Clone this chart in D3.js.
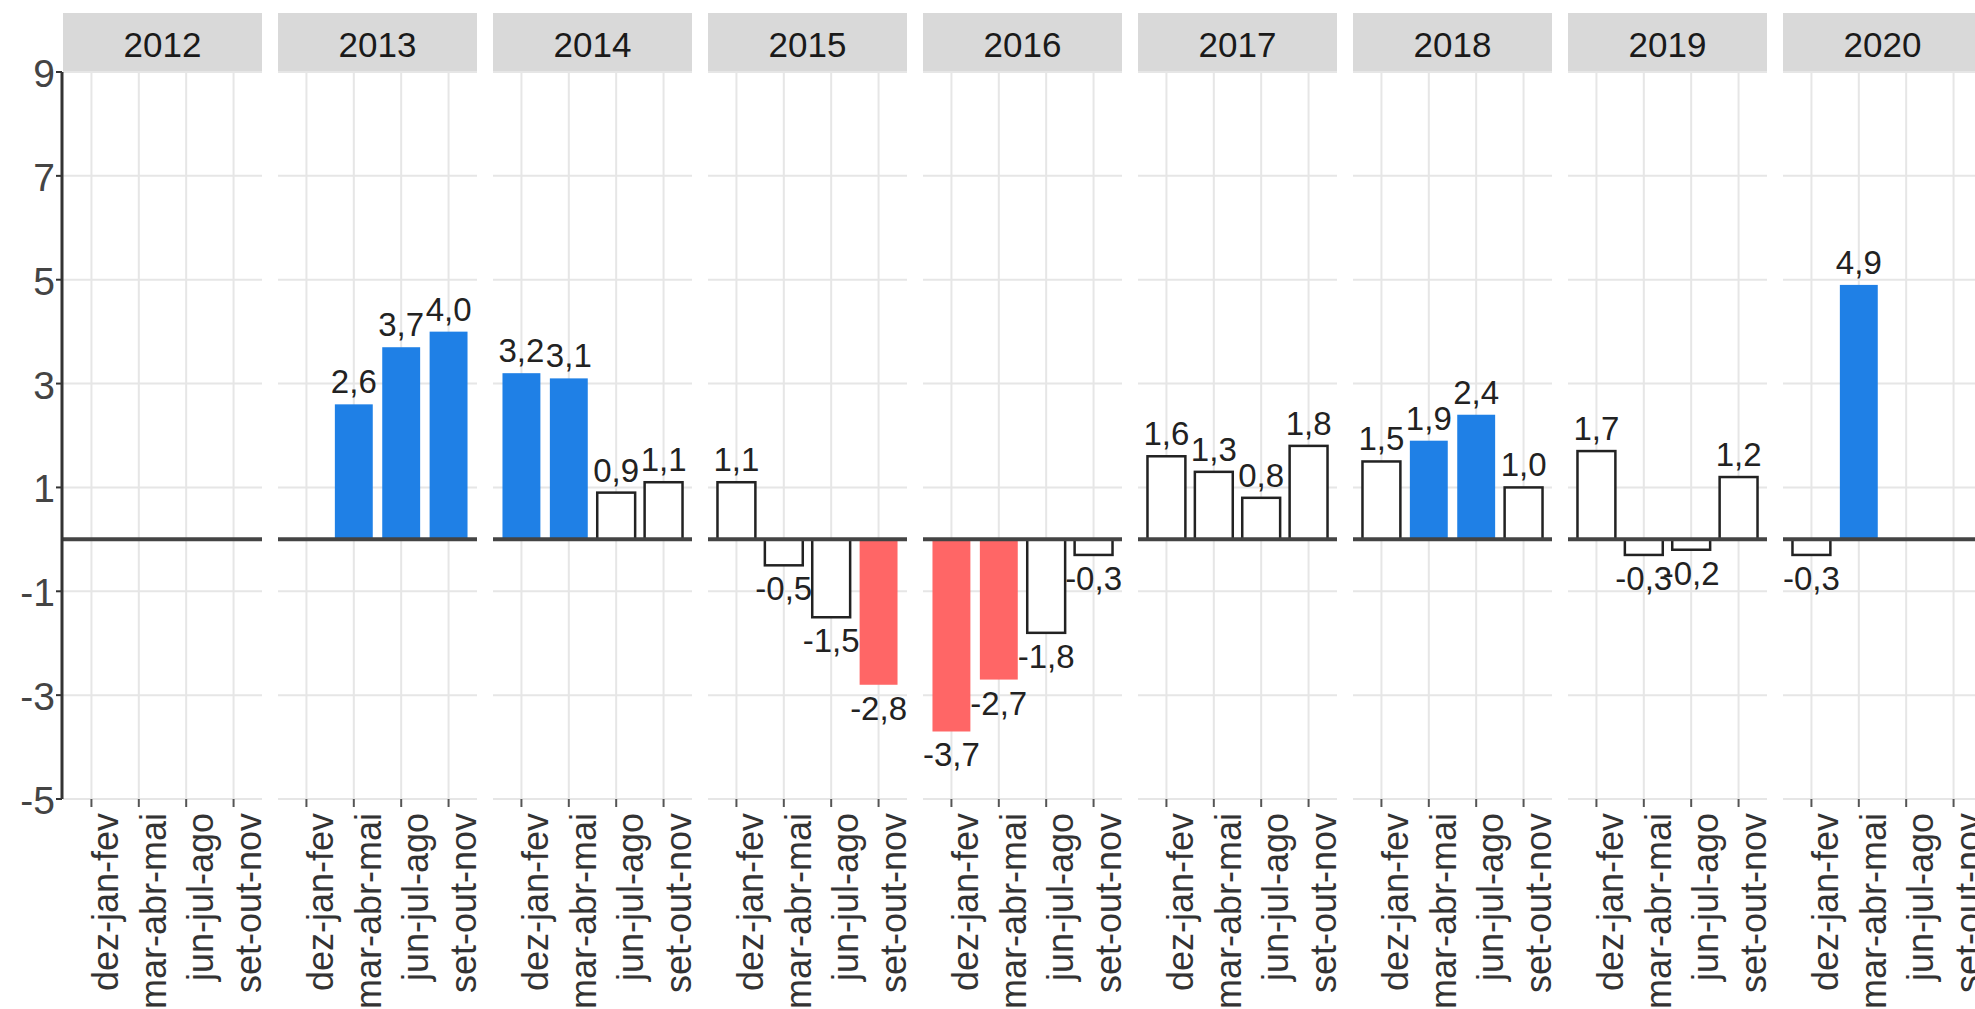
<!DOCTYPE html>
<html>
<head>
<meta charset="utf-8">
<script src="https://cdn.jsdelivr.net/npm/d3@7"></script>
<style>
  html, body { margin: 0; padding: 0; background: #fff; overflow: hidden; }
  svg { display: block; font-family: "Liberation Sans", Arial, sans-serif; }
</style>
</head>
<body>
<svg id="chart"></svg>
<script>
// data
const years = ['2012', '2013', '2014', '2015', '2016', '2017', '2018', '2019', '2020']
const seasons = ['dez-jan-fev', 'mar-abr-mai', 'jun-jul-ago', 'set-out-nov']
const v2012 = [null, null, null, null]
const v2013 = [null, 2.6, 3.7, 4.0]
const v2014 = [3.2, 3.1, 0.9, 1.1]
const v2015 = [1.1, -0.5, -1.5, -2.8]
const v2016 = [-3.7, -2.7, -1.8, -0.3]
const v2017 = [1.6, 1.3, 0.8, 1.8]
const v2018 = [1.5, 1.9, 2.4, 1.0]
const v2019 = [1.7, -0.3, -0.2, 1.2]
const v2020 = [-0.3, 4.9, null, null]
const yTicks = [9, 7, 5, 3, 1, -1, -3, -5]

const series = [v2012, v2013, v2014, v2015, v2016, v2017, v2018, v2019, v2020]

const W = 1975, H = 1009
const marginLeft = 63, panelW = 199, panelGap = 16
const panelTop = 72, panelBottom = 799, stripTop = 13

const blue = '#1f80e6', red = '#ff6666'
const fmt = d3.formatLocale({ decimal: ',', thousands: '.', grouping: [3], currency: ['', ''], minus: '-' }).format('.1f')

const svg = d3.select('#chart')
  .attr('width', W)
  .attr('height', H)

const y = d3.scaleLinear()
  .domain([-5, 9])
  .range([panelBottom, panelTop])

const fx = d3.scaleBand()
  .domain(years)
  .range([marginLeft, marginLeft + years.length * (panelW + panelGap)])
  .paddingInner(0)

const x = d3.scalePoint()
  .domain(seasons)
  .range([0, panelW])
  .padding(0.6)

const barW = x.step() * 0.8

years.forEach((yr, i) => {
  const g = svg.append('g')
    .attr('transform', `translate(${fx(yr)},0)`)

  // strip
  g.append('rect')
    .attr('x', 0).attr('y', stripTop)
    .attr('width', panelW).attr('height', panelTop - stripTop)
    .attr('fill', '#d9d9d9')
  g.append('text')
    .attr('x', panelW / 2).attr('y', 57)
    .attr('text-anchor', 'middle')
    .attr('font-size', 35)
    .attr('fill', '#1a1a1a')
    .text(yr)

  // grid
  g.selectAll('.hg').data(yTicks).join('line')
    .attr('x1', 0).attr('x2', panelW)
    .attr('y1', d => y(d)).attr('y2', d => y(d))
    .attr('stroke', '#e6e6e6').attr('stroke-width', 2)
  g.selectAll('.vg').data(seasons).join('line')
    .attr('x1', d => x(d)).attr('x2', d => x(d))
    .attr('y1', panelTop).attr('y2', panelBottom)
    .attr('stroke', '#e6e6e6').attr('stroke-width', 2)

  // x ticks and labels
  g.selectAll('.xt').data(seasons).join('line')
    .attr('x1', d => x(d)).attr('x2', d => x(d))
    .attr('y1', panelBottom).attr('y2', panelBottom + 8)
    .attr('stroke', '#555').attr('stroke-width', 2)
  g.selectAll('.xl').data(seasons).join('text')
    .attr('transform', d => `translate(${x(d)},813) rotate(-90)`)
    .attr('dy', 27)
    .attr('text-anchor', 'end')
    .attr('font-size', 36)
    .attr('fill', '#333')
    .text(d => d)

  // bars
  const rows = seasons.map((s, j) => ({ s, v: series[i][j] })).filter(d => d.v != null)
  g.selectAll('.bar').data(rows).join('rect')
    .attr('x', d => x(d.s) - barW / 2)
    .attr('width', barW)
    .attr('y', d => y(Math.max(0, d.v)))
    .attr('height', d => Math.abs(y(d.v) - y(0)))
    .attr('fill', d => d.v >= 1.9 ? blue : d.v <= -1.9 ? red : '#fff')
    .attr('stroke', d => Math.abs(d.v) >= 1.9 ? 'none' : '#222')
    .attr('stroke-width', 2.5)

  // zero line
  g.append('line')
    .attr('x1', 0).attr('x2', panelW)
    .attr('y1', y(0)).attr('y2', y(0))
    .attr('stroke', '#444').attr('stroke-width', 4)

  // value labels
  g.selectAll('.lab').data(rows).join('text')
    .attr('x', d => x(d.s))
    .attr('y', d => d.v >= 0 ? y(d.v) - 11 : y(d.v) + 35)
    .attr('text-anchor', 'middle')
    .attr('font-size', 33)
    .attr('fill', '#222')
    .text(d => fmt(d.v))
})

// y axis
const ya = svg.append('g')
ya.append('line')
  .attr('x1', 62).attr('x2', 62)
  .attr('y1', panelTop).attr('y2', panelBottom)
  .attr('stroke', '#333').attr('stroke-width', 3)
ya.selectAll('.yt').data(yTicks).join('line')
  .attr('x1', 56).attr('x2', 62)
  .attr('y1', d => y(d)).attr('y2', d => y(d))
  .attr('stroke', '#333').attr('stroke-width', 2)
ya.selectAll('.yl').data(yTicks).join('text')
  .attr('x', 55)
  .attr('y', d => y(d) + 15)
  .attr('text-anchor', 'end')
  .attr('font-size', 39)
  .attr('fill', '#444')
  .text(d => d)
</script>
</body>
</html>
